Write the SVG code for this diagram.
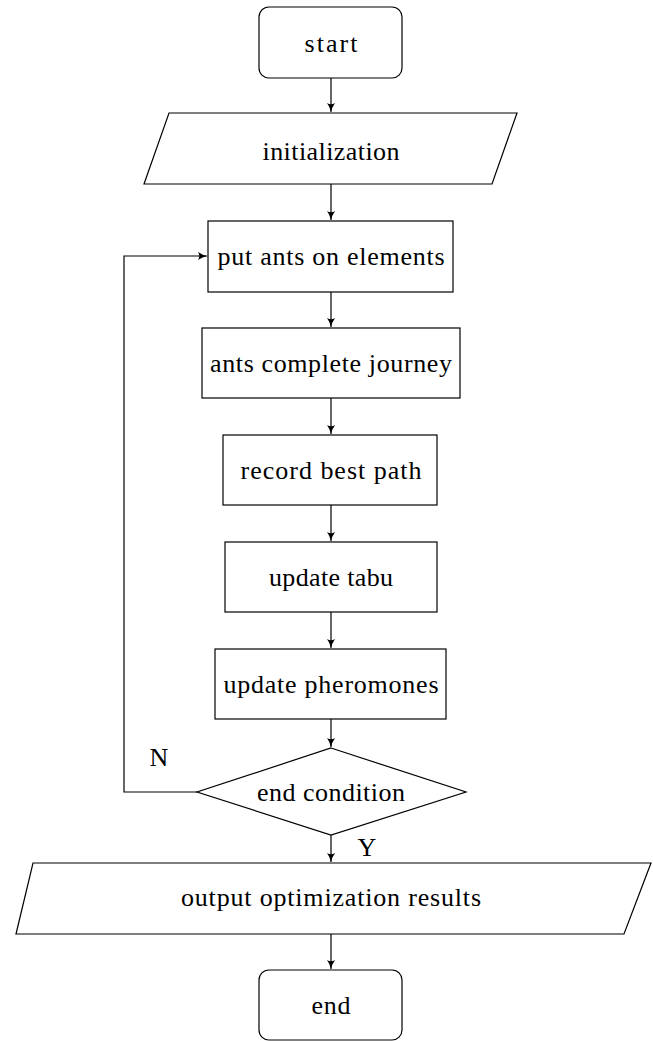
<svg xmlns="http://www.w3.org/2000/svg" width="653" height="1041" viewBox="0 0 653 1041">
<defs>
<marker id="arr" viewBox="0 0 10 10" refX="10" refY="5" markerWidth="9" markerHeight="9" markerUnits="userSpaceOnUse" orient="auto">
<path d="M0,0.5 Q5,4 10,5 Q5,6 0,9.5 Q3,5 0,0.5 Z" fill="#000"/>
</marker>
<style>
.n{fill:#fff;stroke:#000;stroke-width:1.2}
.t{font-family:"Liberation Serif","DejaVu Serif",serif;font-size:26px;fill:#000;text-anchor:middle;dominant-baseline:central}
.c{fill:none;stroke:#000;stroke-width:1.2;marker-end:url(#arr)}
</style>
</defs>
<rect width="653" height="1041" fill="#fff"/>
<g id="connectors">
<line class="c" x1="331" y1="78" x2="331" y2="112"/>
<line class="c" x1="331" y1="184" x2="331" y2="220"/>
<line class="c" x1="331" y1="292" x2="331" y2="327"/>
<line class="c" x1="331" y1="398" x2="331" y2="434"/>
<line class="c" x1="331" y1="505" x2="331" y2="541"/>
<line class="c" x1="331" y1="612" x2="331" y2="648"/>
<line class="c" x1="331" y1="719" x2="331" y2="747"/>
<line class="c" x1="331" y1="835" x2="331" y2="862"/>
<line class="c" x1="331" y1="934" x2="331" y2="969"/>
<polyline class="c" points="197,792 124,792 124,256 207,256"/>
<text class="t" x="159" y="757">N</text>
<text class="t" x="367" y="847">Y</text>
</g>
<g id="start"><rect class="n" x="259" y="7" width="143" height="71" rx="10"/><text class="t" x="331" y="43" textLength="53" lengthAdjust="spacing">start</text></g>
<g id="init"><polygon class="n" points="169,113 517,113 492,184 144,184"/><text class="t" x="331" y="151" textLength="137" lengthAdjust="spacing">initialization</text></g>
<g id="put"><rect class="n" x="208" y="221" width="245" height="71"/><text class="t" x="331" y="256" textLength="227" lengthAdjust="spacing">put ants on elements</text></g>
<g id="journey"><rect class="n" x="202" y="328" width="258" height="70"/><text class="t" x="331" y="363" textLength="242" lengthAdjust="spacing">ants complete journey</text></g>
<g id="record"><rect class="n" x="223" y="435" width="214" height="70"/><text class="t" x="331" y="470" textLength="181" lengthAdjust="spacing">record best path</text></g>
<g id="tabu"><rect class="n" x="225" y="542" width="212" height="70"/><text class="t" x="331" y="577" textLength="124" lengthAdjust="spacing">update tabu</text></g>
<g id="pher"><rect class="n" x="215" y="649" width="231" height="70"/><text class="t" x="331" y="684" textLength="215" lengthAdjust="spacing">update pheromones</text></g>
<g id="cond"><polygon class="n" points="331,748 466,792 331,835 197,792"/><text class="t" x="331" y="792" textLength="148" lengthAdjust="spacing">end condition</text></g>
<g id="output"><polygon class="n" points="33,863 651,863 624,934 16,934"/><text class="t" x="331" y="897" textLength="300" lengthAdjust="spacing">output optimization results</text></g>
<g id="end"><rect class="n" x="259" y="970" width="143" height="70" rx="10"/><text class="t" x="331" y="1005" textLength="39" lengthAdjust="spacing">end</text></g>
</svg>
